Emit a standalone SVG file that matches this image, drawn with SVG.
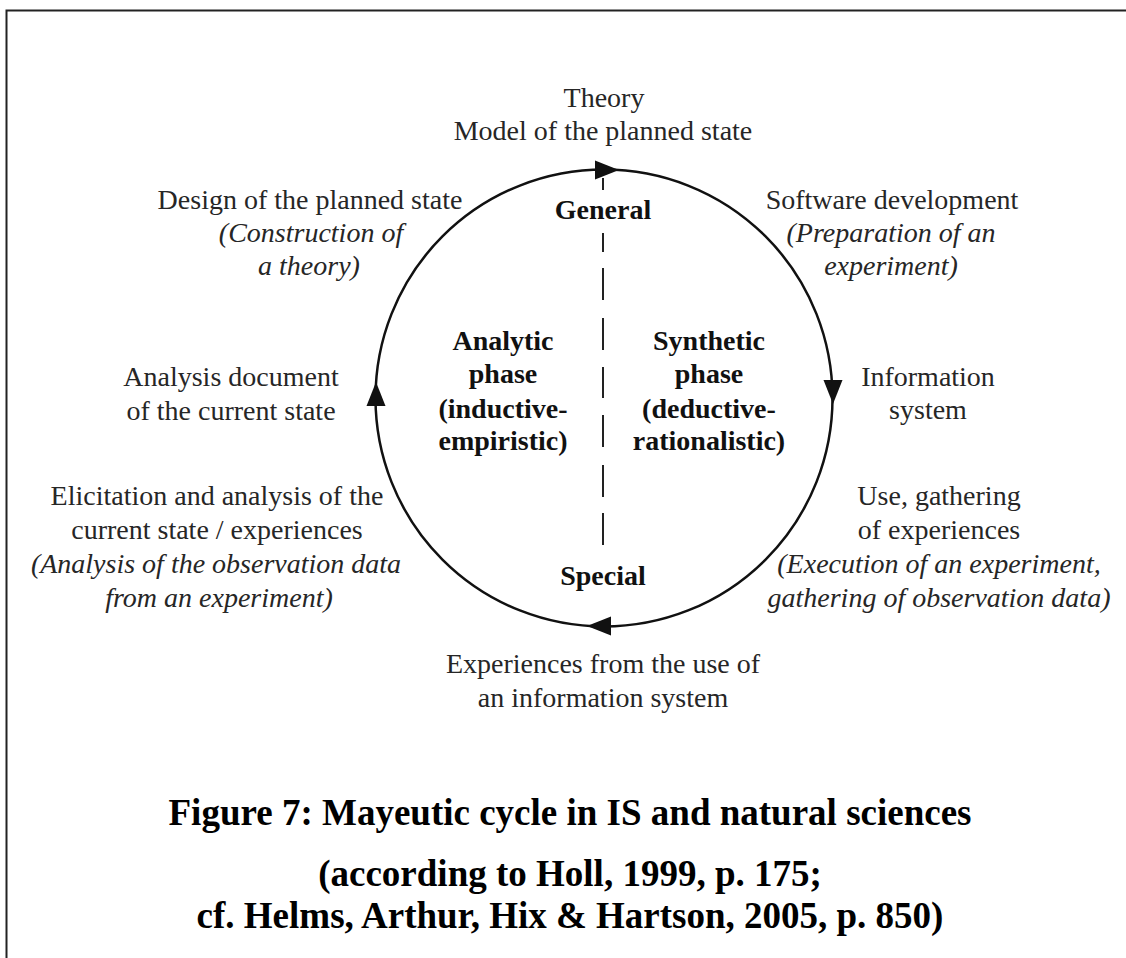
<svg xmlns="http://www.w3.org/2000/svg" xmlns:xlink="http://www.w3.org/1999/xlink" width="1126" height="958" viewBox="0 0 1126 958">
<style>
.lbl{font-family:"Liberation Serif","Times New Roman",serif;font-size:28px;fill:#262626;text-anchor:middle}
.it{font-style:italic}
.bold{font-family:"Liberation Serif","Times New Roman",serif;font-size:28px;font-weight:bold;fill:#111;text-anchor:middle}
.cap{font-family:"Liberation Serif","Times New Roman",serif;font-size:37px;font-weight:bold;fill:#000;text-anchor:middle}
.ring{fill:none;stroke:#111;stroke-width:2.5}
.dash{fill:none;stroke:#222;stroke-width:2}
.frame{fill:none;stroke:#222;stroke-width:2}
</style>
<defs>
<path id="ah" d="M0,0 L-24,-9.5 L-24,9.5 Z" fill="#111"/>
</defs>
<rect width="1126" height="958" fill="#fff"/>
<path class="frame" d="M6.5,958 V10.5 H1126"/>
<g id="connectors">
<circle class="ring" cx="604" cy="398" r="228.5"/>
<use xlink:href="#ah" transform="translate(619,170)"/>
<use xlink:href="#ah" transform="translate(833,404) rotate(90)"/>
<use xlink:href="#ah" transform="translate(587,626) rotate(180)"/>
<use xlink:href="#ah" transform="translate(376,382) rotate(-90)"/>
<path class="dash" d="M603,178V190 M603,233V252 M603,268V300 M603,318V350 M603,367V398 M603,415V447 M603,465V497 M603,513V545"/>
</g>
<g id="theory">
<text class="lbl" x="604" y="107">Theory</text>
<text class="lbl" x="603" y="140">Model of the planned state</text>
</g>
<g id="design">
<text class="lbl" x="310" y="209">Design of the planned state</text>
<text class="lbl it" x="311" y="242">(Construction of</text>
<text class="lbl it" x="309" y="275">a theory)</text>
</g>
<g id="software">
<text class="lbl" x="892" y="209">Software development</text>
<text class="lbl it" x="891" y="242">(Preparation of an</text>
<text class="lbl it" x="891" y="275">experiment)</text>
</g>
<g id="analysis-doc">
<text class="lbl" x="231" y="386">Analysis document</text>
<text class="lbl" x="231" y="420">of the current state</text>
</g>
<g id="information-system">
<text class="lbl" x="928" y="386">Information</text>
<text class="lbl" x="928" y="419">system</text>
</g>
<g id="elicitation">
<text class="lbl" x="217" y="505">Elicitation and analysis of the</text>
<text class="lbl" x="217" y="539">current state / experiences</text>
<text class="lbl it" x="216" y="573">(Analysis of the observation data</text>
<text class="lbl it" x="219" y="607">from an experiment)</text>
</g>
<g id="use">
<text class="lbl" x="939" y="505">Use, gathering</text>
<text class="lbl" x="939" y="539">of experiences</text>
<text class="lbl it" x="939" y="573">(Execution of an experiment,</text>
<text class="lbl it" x="939" y="607">gathering of observation data)</text>
</g>
<g id="experiences">
<text class="lbl" x="603" y="673">Experiences from the use of</text>
<text class="lbl" x="603" y="707">an information system</text>
</g>
<g id="general"><text class="bold" x="603" y="219">General</text></g>
<g id="special"><text class="bold" x="603" y="585">Special</text></g>
<g id="analytic">
<text class="bold" x="503" y="350">Analytic</text>
<text class="bold" x="503" y="383">phase</text>
<text class="bold" x="503" y="418">(inductive-</text>
<text class="bold" x="503" y="450">empiristic)</text>
</g>
<g id="synthetic">
<text class="bold" x="709" y="350">Synthetic</text>
<text class="bold" x="709" y="383">phase</text>
<text class="bold" x="709" y="418">(deductive-</text>
<text class="bold" x="709" y="450">rationalistic)</text>
</g>
<g id="caption">
<text class="cap" x="570" y="825">Figure 7: Mayeutic cycle in IS and natural sciences</text>
<text class="cap" x="570" y="886">(according to Holl, 1999, p. 175;</text>
<text class="cap" x="570" y="928">cf. Helms, Arthur, Hix &amp; Hartson, 2005, p. 850)</text>
</g>
</svg>
